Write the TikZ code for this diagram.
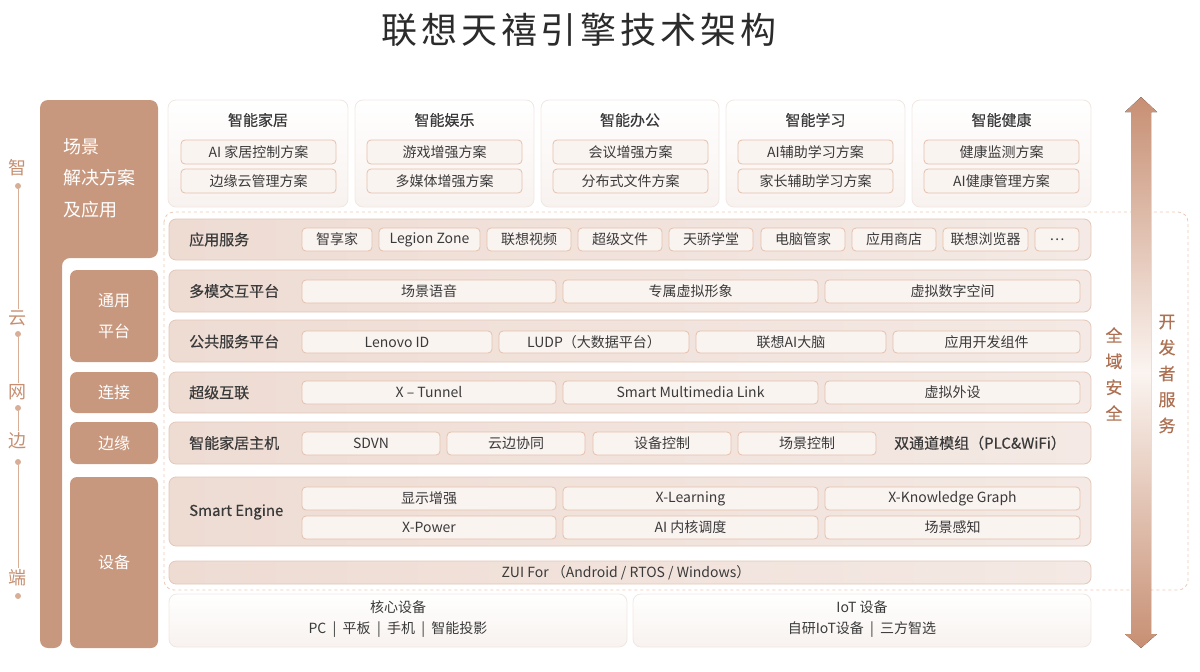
\documentclass[tikz,border=0pt]{standalone}
\usepackage{fontspec}
\setmainfont{Noto Sans CJK SC}
\newfontfamily\medfont[FakeBold=0.4]{Noto Sans CJK SC}
\newfontfamily\titlefont[LetterSpace=11]{Noto Sans CJK SC}
\definecolor{tan}{HTML}{C8987E}
\definecolor{tanline}{HTML}{D9AE96}
\definecolor{tantext}{HTML}{C68F72}
\definecolor{sidetext}{HTML}{AD7052}
\definecolor{rowfill}{HTML}{EEDCD3}
\definecolor{rowfill2}{HTML}{F4E9E4}
\definecolor{rowline}{HTML}{E4C7B8}
\definecolor{itemfill}{HTML}{FAF4F1}
\definecolor{itemline}{HTML}{E6C0AB}
\definecolor{cardline}{HTML}{F0E7E3}
\definecolor{cardbot}{HTML}{F8F2EF}
\definecolor{txt}{HTML}{3A3A3A}
\definecolor{titletxt}{HTML}{2B2B2B}
\definecolor{dashc}{HTML}{ECC8B6}
\definecolor{arrowc}{HTML}{C78F73}
\definecolor{arrowmid}{HTML}{FBF4F0}
\newcommand\mkbox[7]{\node[#1, minimum width={(#3)-(#2)}, minimum height={(#5)-(#4)}] (#6) at ({((#2)+(#3))/2},{((#4)+(#5))/2}) {#7};}
\tikzset{
  rowbox/.style={draw=rowline, line width=0.8pt, rounded corners=7pt, left color=rowfill, right color=rowfill2, inner sep=0pt},
  itembox/.style={draw=itemline, line width=0.8pt, rounded corners=4pt, fill=itemfill, font=\fontsize{14}{16}\selectfont, text=txt, inner sep=0pt},
  cardbox/.style={draw=cardline, line width=0.8pt, rounded corners=8pt, top color=white, bottom color=cardbot, inner sep=0pt},
  tanbox/.style={fill=tan, rounded corners=7pt, text=white, font=\fontsize{16}{31}\selectfont, align=center, inner sep=0pt},
  rowlabel/.style={anchor=west, font=\medfont\fontsize{15}{18}\selectfont, text=txt, inner sep=0pt},
  cardtitle/.style={font=\medfont\fontsize{15}{18}\selectfont, text=txt, inner sep=0pt},
  bottomtext/.style={font=\fontsize{14}{21}\selectfont, text=txt, align=center, inner sep=0pt},
  tllabel/.style={font=\fontsize{18}{20}\selectfont, text=tantext, inner sep=1.5pt},
  tldot/.style={circle, fill=tanline, inner sep=0pt, minimum size=6pt},
  tlline/.style={draw=tanline, line width=1pt},
  sidelabel/.style={font=\medfont\fontsize{17}{26}\selectfont, text=sidetext, align=center, inner sep=0pt}
}
\begin{document}
\begin{tikzpicture}[x=1pt,y=-1pt]
\useasboundingbox (0,0) rectangle (1200,672);
% title
\node[font=\titlefont\fontsize{36}{40}\selectfont, text=titletxt, inner sep=0pt] (title) at (579,30) {联想天禧引擎技术架构};
% dashed region
\draw[dashc, line width=0.8pt, dash pattern=on 3pt off 3pt, rounded corners=10pt] (164,212) rectangle (1188,590);
% left L column
\fill[tan, rounded corners=8pt] (40,100) -- (158,100) -- (158,258) -- (62,258) -- (62,648) -- (40,648) -- cycle;
\node[anchor=west, align=left, text=white, font=\fontsize{18}{31.5}\selectfont, inner sep=0pt] (scene) at (63,178) {场景\\解决方案\\及应用};
% left inner boxes
\mkbox{tanbox}{70}{158}{270}{362}{tp}{通用\\平台}
\mkbox{tanbox}{70}{158}{372}{413}{lj}{连接}
\mkbox{tanbox}{70}{158}{422}{464}{by}{边缘}
\mkbox{tanbox}{70}{158}{477}{648}{sb}{设备}
% timeline
\node[tllabel] (t1) at (18,168) {智};
\node[tldot] (d1) at (18,186) {};
\node[tllabel] (t2) at (18,318) {云};
\node[tldot] (d2) at (18,334) {};
\node[tllabel] (t3) at (18,392) {网};
\node[tldot] (d3) at (18,408) {};
\node[tllabel] (t4) at (18,441) {边};
\node[tldot] (d4) at (18,462) {};
\node[tllabel] (t5) at (18,578) {端};
\node[tldot] (d5) at (18,596) {};
\draw[tlline] (d1) -- (t2);
\draw[tlline] (d2) -- (t3);
\draw[tlline] (d3) -- (t4);
\draw[tlline] (d4) -- (t5);
% top cards
\mkbox{cardbox}{168}{348}{100}{207}{c1}{}
\mkbox{cardbox}{355}{534}{100}{207}{c2}{}
\mkbox{cardbox}{541}{719}{100}{207}{c3}{}
\mkbox{cardbox}{726}{905}{100}{207}{c4}{}
\mkbox{cardbox}{912}{1091}{100}{207}{c5}{}
\node[cardtitle] (c1t) at (258,120) {智能家居};
\node[cardtitle] (c2t) at (444.5,120) {智能娱乐};
\node[cardtitle] (c3t) at (630,120) {智能办公};
\node[cardtitle] (c4t) at (815.5,120) {智能学习};
\node[cardtitle] (c5t) at (1001.5,120) {智能健康};
\mkbox{itembox}{181}{336}{140}{164}{c1a}{AI 家居控制方案}
\mkbox{itembox}{181}{336}{169}{193}{c1b}{边缘云管理方案}
\mkbox{itembox}{367}{522}{140}{164}{c2a}{游戏增强方案}
\mkbox{itembox}{367}{522}{169}{193}{c2b}{多媒体增强方案}
\mkbox{itembox}{553}{708}{140}{164}{c3a}{会议增强方案}
\mkbox{itembox}{553}{708}{169}{193}{c3b}{分布式文件方案}
\mkbox{itembox}{738}{893}{140}{164}{c4a}{AI辅助学习方案}
\mkbox{itembox}{738}{893}{169}{193}{c4b}{家长辅助学习方案}
\mkbox{itembox}{924}{1079}{140}{164}{c5a}{健康监测方案}
\mkbox{itembox}{924}{1079}{169}{193}{c5b}{AI健康管理方案}
% rows
\mkbox{rowbox}{169}{1091}{219}{260}{r1}{}
\mkbox{rowbox}{169}{1091}{270}{312}{r2}{}
\mkbox{rowbox}{169}{1091}{320}{362}{r3}{}
\mkbox{rowbox}{169}{1091}{372}{413}{r4}{}
\mkbox{rowbox}{169}{1091}{422}{464}{r5}{}
\mkbox{rowbox}{169}{1091}{477}{546}{r6}{}
\mkbox{rowbox}{169}{1091}{561}{584}{r7}{}
\node[rowlabel] (l1) at (189,239.5) {应用服务};
\node[rowlabel] (l2) at (189,291) {多模交互平台};
\node[rowlabel] (l3) at (189,341.5) {公共服务平台};
\node[rowlabel] (l4) at (189,392.5) {超级互联};
\node[rowlabel] (l5) at (189,443) {智能家居主机};
\node[rowlabel] (l6) at (189,512) {Smart Engine};
% row 1 items
\mkbox{itembox}{302}{372}{228}{251}{a1}{智享家}
\mkbox{itembox}{379}{480}{228}{251}{a2}{Legion Zone}
\mkbox{itembox}{487}{571}{228}{251}{a3}{联想视频}
\mkbox{itembox}{578}{662}{228}{251}{a4}{超级文件}
\mkbox{itembox}{669}{753}{228}{251}{a5}{天骄学堂}
\mkbox{itembox}{761}{845}{228}{251}{a6}{电脑管家}
\mkbox{itembox}{852}{936}{228}{251}{a7}{应用商店}
\mkbox{itembox}{943}{1028}{228}{251}{a8}{联想浏览器}
\mkbox{itembox}{1035}{1079}{228}{251}{a9}{…}
% row 2
\mkbox{itembox}{302}{556}{280}{303}{b1}{场景语音}
\mkbox{itembox}{563}{818}{280}{303}{b2}{专属虚拟形象}
\mkbox{itembox}{825}{1080}{280}{303}{b3}{虚拟数字空间}
% row 3
\mkbox{itembox}{302}{492}{331}{353}{p1}{Lenovo ID}
\mkbox{itembox}{499}{689}{331}{353}{p2}{LUDP（大数据平台）}
\mkbox{itembox}{696}{886}{331}{353}{p3}{联想AI大脑}
\mkbox{itembox}{893}{1080}{331}{353}{p4}{应用开发组件}
% row 4
\mkbox{itembox}{302}{556}{381}{404}{x1}{X – Tunnel}
\mkbox{itembox}{563}{818}{381}{404}{x2}{Smart Multimedia Link}
\mkbox{itembox}{825}{1080}{381}{404}{x3}{虚拟外设}
% row 5
\mkbox{itembox}{302}{440}{432}{455}{h1}{SDVN}
\mkbox{itembox}{447}{585}{432}{455}{h2}{云边协同}
\mkbox{itembox}{593}{731}{432}{455}{h3}{设备控制}
\mkbox{itembox}{738}{876}{432}{455}{h4}{场景控制}
\node[cardtitle] (h5) at (980,443) {双通道模组（PLC\&WiFi）};
% row 6
\mkbox{itembox}{302}{556}{487}{510}{e1}{显示增强}
\mkbox{itembox}{563}{818}{487}{510}{e2}{X-Learning}
\mkbox{itembox}{825}{1080}{487}{510}{e3}{X-Knowledge Graph}
\mkbox{itembox}{302}{556}{516}{539}{e4}{X-Power}
\mkbox{itembox}{563}{818}{516}{539}{e5}{AI 内核调度}
\mkbox{itembox}{825}{1080}{516}{539}{e6}{场景感知}
% row 7
\node[font=\fontsize{14}{16}\selectfont, text=txt, inner sep=0pt] (zui) at (626,572.5) {ZUI For （Android / RTOS / Windows）};
% bottom boxes
\mkbox{cardbox}{169}{627}{594}{647}{core}{}
\mkbox{cardbox}{633}{1091}{594}{647}{iot}{}
\node[bottomtext] (coret) at (398,619) {核心设备\\PC \ | \ 平板 \ | \ 手机 \ | \ 智能投影};
\node[bottomtext] (iott) at (862,619) {IoT 设备\\自研IoT设备 \ | \ 三方智选};
% right arrow
\fill[top color=arrowc, bottom color=arrowc, middle color=arrowmid] (1141,97) -- (1157,112) -- (1151,112) -- (1151,634) -- (1157,634) -- (1141,648) -- (1125,634) -- (1131,634) -- (1131,112) -- (1125,112) -- cycle;
\node[sidelabel] (sec) at (1114,374) {全\\域\\安\\全};
\node[sidelabel] (dev) at (1167,374) {开\\发\\者\\服\\务};
\end{tikzpicture}
\end{document}
